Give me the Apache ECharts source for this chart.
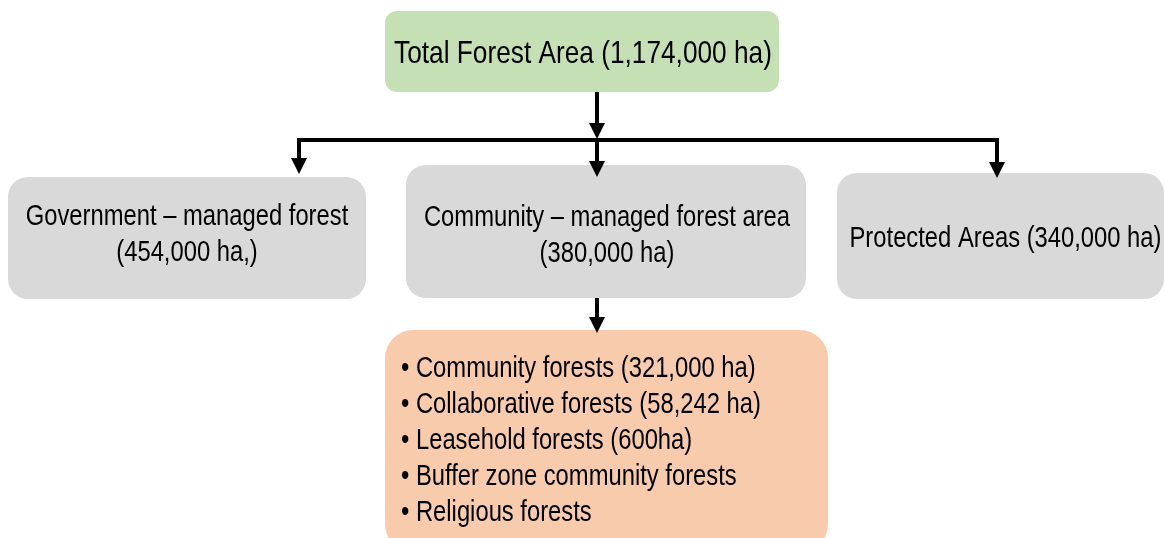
<!DOCTYPE html>
<html>
<head>
<meta charset="utf-8">
<script src="https://cdn.jsdelivr.net/npm/echarts@6/dist/echarts.min.js"></script>
<style>
  html, body { margin: 0; padding: 0; background: #fff; }
  #chart { width: 1166px; height: 538px; }
</style>
</head>
<body>
<div id="chart"></div>
<script>
// box texts
var nodeTitles = ['Total Forest Area', 'Government \u2013 managed forest', 'Community \u2013 managed forest area', 'Protected Areas'];
var nodeAreas = ['1,174,000 ha', '454,000 ha,', '380,000 ha', '340,000 ha'];
var subTypes = [
    'Community forests (321,000 ha)',
    'Collaborative forests (58,242 ha)',
    'Leasehold forests (600ha)',
    'Buffer zone community forests',
    'Religious forests'
];

// layout (pixel space of the hidden grid)
var boxLayout = [
    {rect: [385, 11, 779, 92], r: 12, color: '#c5e0b4', wrap: false, dx: 1, dy: 3, size: 32},
    {rect: [8, 177, 366, 299], r: 20, color: '#d9d9d9', wrap: true, dx: 0, dy: -3, size: 29},
    {rect: [406, 165, 806, 298], r: 20, color: '#d9d9d9', wrap: true, dx: 1, dy: 4, size: 29},
    {rect: [837, 173, 1164, 299], r: 20, color: '#d9d9d9', wrap: false, dx: 5, dy: 3, size: 29},
    {rect: [385, 330, 828, 552], r: 28, color: '#f8cbad', list: true, dx: 16, dy: 21, size: 29}
];
var arrowLinks = [
    [[597, 92], [597, 131]],
    [[299, 140], [299, 166]],
    [[997, 140], [997, 170]],
    [[597, 140], [597, 169]],
    [[597, 298], [597, 325]]
];
var plainLinks = [
    [[297, 140], [999, 140]]
];

var FAMILY = '"Liberation Sans", Arial, sans-serif';
var NARROW = 0.82;

function boxText(i){
    if(i < nodeTitles.length){
        var sep = boxLayout[i].wrap ? '\n' : ' ';
        return nodeTitles[i] + sep + '(' + nodeAreas[i] + ')';
    }
    return subTypes.map(function(s){ return '\u2022 ' + s; }).join('\n');
}

var boxData = boxLayout.map(function(b, i){
    return [b.rect[0], b.rect[1], b.rect[2], b.rect[3], i];
});

var myChart = echarts.init(document.getElementById('chart'));
var option = {
    animation: false,
    grid: {left: 0, right: 0, top: 0, bottom: 0},
    xAxis: {type: 'value', min: 0, max: 1166, show: false},
    yAxis: {type: 'value', min: 0, max: 538, inverse: true, show: false},
    series: [
        {
            type: 'custom',
            clip: false,
            data: boxData,
            renderItem: function(params, api){
                var p0 = api.coord([api.value(0), api.value(1)]);
                var p1 = api.coord([api.value(2), api.value(3)]);
                var idx = api.value(4);
                var b = boxLayout[idx];
                var w = p1[0] - p0[0], h = p1[1] - p0[1];
                var font = b.size + 'px ' + FAMILY;
                var text;
                if(b.list){
                    text = {
                        type: 'text',
                        x: p0[0] + b.dx,
                        y: p0[1] + b.dy,
                        scaleX: NARROW,
                        style: {
                            text: boxText(idx),
                            x: 0, y: 0,
                            align: 'left',
                            verticalAlign: 'top',
                            font: font,
                            lineHeight: 36,
                            fill: '#000'
                        }
                    };
                }else{
                    text = {
                        type: 'text',
                        x: p0[0] + w / 2 + b.dx,
                        y: p0[1] + h / 2 + b.dy,
                        scaleX: NARROW,
                        style: {
                            text: boxText(idx),
                            x: 0, y: 0,
                            align: 'center',
                            verticalAlign: 'middle',
                            font: font,
                            lineHeight: 36,
                            fill: '#000'
                        }
                    };
                }
                return {
                    type: 'group',
                    children: [
                        {
                            type: 'rect',
                            shape: {x: p0[0], y: p0[1], width: w, height: h, r: b.r},
                            style: {fill: b.color}
                        },
                        text
                    ]
                };
            },
            z: 1
        },
        {
            type: 'lines',
            coordinateSystem: 'cartesian2d',
            symbol: ['none', 'triangle'],
            symbolSize: 16,
            lineStyle: {color: '#000', width: 4, opacity: 1},
            data: arrowLinks.map(function(c){ return {coords: c}; }),
            z: 5
        },
        {
            type: 'lines',
            coordinateSystem: 'cartesian2d',
            symbol: 'none',
            lineStyle: {color: '#000', width: 4, opacity: 1},
            data: plainLinks.map(function(c){ return {coords: c}; }),
            z: 5
        }
    ]
};
myChart.setOption(option);
</script>
</body>
</html>
